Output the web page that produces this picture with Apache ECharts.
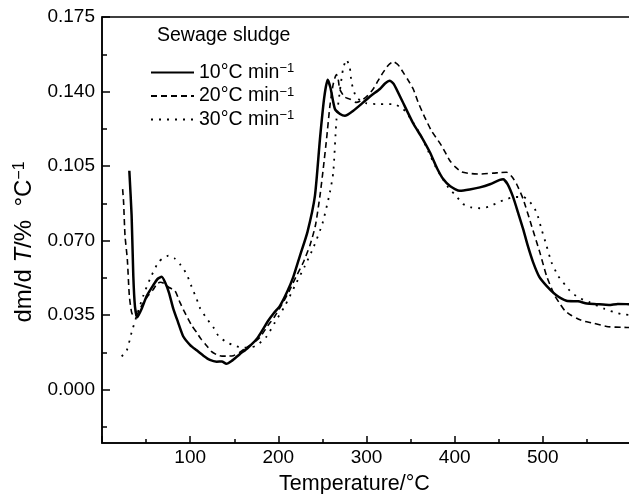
<!DOCTYPE html>
<html>
<head>
<meta charset="utf-8">
<script src="https://cdn.jsdelivr.net/npm/echarts@6/dist/echarts.min.js"></script>
<style>
  html, body { margin: 0; padding: 0; background: #fff; }
  #main { width: 629px; height: 494px; }
</style>
</head>
<body>
<div id="main"></div>
<script>
// DTG curves of sewage sludge at three heating rates
const temp10 = [31, 33.6, 35.5, 37.4, 40, 45, 50.7, 58, 63, 67.7, 72, 76, 80.9, 86, 92.2, 100, 107.4, 115, 122.4, 130, 136, 141, 147, 156.5, 165, 175.4, 182, 188.5, 195, 201.8, 210, 217, 224.5, 233, 241.5, 247.2, 252, 255.9, 259, 264.2, 270, 275.5, 285, 296.3, 305, 315.2, 321, 326.5, 331, 340, 353, 362, 371.9, 380, 387, 395, 405.9, 417, 428.6, 440, 451.2, 455, 460, 466.4, 472, 477.7, 483, 489, 496, 504.2, 515, 526.8, 540, 550, 560.8, 575, 585, 594.8, 600]
const dtg10 = [0.1028, 0.0817, 0.0535, 0.039, 0.034, 0.038, 0.044, 0.049, 0.052, 0.053, 0.050, 0.0455, 0.038, 0.032, 0.025, 0.021, 0.0185, 0.016, 0.014, 0.0132, 0.0133, 0.0122, 0.0135, 0.0168, 0.0195, 0.0238, 0.028, 0.0324, 0.036, 0.0394, 0.046, 0.053, 0.0629, 0.074, 0.091, 0.1177, 0.137, 0.1455, 0.142, 0.1318, 0.1295, 0.1286, 0.131, 0.1349, 0.138, 0.1412, 0.1438, 0.1451, 0.1435, 0.136, 0.125, 0.119, 0.1115, 0.104, 0.0989, 0.0955, 0.0934, 0.094, 0.095, 0.0965, 0.0985, 0.0988, 0.0965, 0.0903, 0.083, 0.0754, 0.0675, 0.0598, 0.053, 0.0488, 0.0445, 0.0418, 0.0415, 0.0405, 0.0402, 0.0398, 0.0403, 0.0402, 0.040]

const temp20 = [23.4, 24.5, 26.1, 28.7, 31, 33.6, 36, 40, 45, 52, 58, 62, 65.8, 70, 76, 82.8, 88.4, 93, 97.8, 102, 107.4, 112, 118.7, 124, 130, 136, 142, 148.9, 156, 164, 172, 179.1, 188, 196, 204, 212, 220, 228, 236, 242, 247.2, 251, 254.7, 258.5, 262, 264.2, 266, 268, 269.6, 275, 281, 288.5, 295, 301, 307.6, 313, 318.9, 325, 330.3, 336, 341.6, 347, 353, 358.6, 366, 373.7, 385.1, 394.6, 401, 407.8, 418, 428.6, 443.7, 452, 458.9, 465, 470.2, 477.7, 487.2, 496.6, 504.2, 513.6, 520, 525, 532, 540, 548, 557, 574, 591, 600]
const dtg20 = [0.0942, 0.088, 0.0723, 0.0614, 0.0441, 0.0363, 0.0345, 0.0355, 0.0395, 0.044, 0.047, 0.0495, 0.0505, 0.050, 0.048, 0.0465, 0.041, 0.037, 0.0332, 0.030, 0.0269, 0.024, 0.0207, 0.018, 0.0165, 0.0158, 0.0158, 0.016, 0.0175, 0.0199, 0.022, 0.0246, 0.030, 0.0345, 0.040, 0.046, 0.053, 0.0595, 0.068, 0.077, 0.091, 0.104, 0.1177, 0.1333, 0.143, 0.1465, 0.148, 0.1455, 0.1412, 0.1375, 0.1365, 0.1349, 0.136, 0.138, 0.1412, 0.145, 0.149, 0.1525, 0.154, 0.1525, 0.149, 0.1455, 0.1412, 0.1349, 0.128, 0.1216, 0.1146, 0.1075, 0.1045, 0.1023, 0.1015, 0.1013, 0.1017, 0.102, 0.1021, 0.100, 0.0966, 0.0895, 0.077, 0.0645, 0.0535, 0.0441, 0.040, 0.0371, 0.035, 0.0332, 0.032, 0.0313, 0.0296, 0.0293, 0.0292]

const temp30 = [22.3, 28, 33.6, 39.3, 46.8, 54.4, 63.8, 70, 75.2, 82, 88.4, 96, 101.5, 107.4, 111, 118.7, 126.3, 131.9, 141.4, 152.7, 160, 168, 176, 186.7, 196.1, 207.5, 218.8, 230, 240, 250, 258.5, 262.3, 266, 269.6, 273.4, 277.2, 281, 283, 288.5, 299.9, 315.2, 330.3, 341.6, 353, 362, 370, 378, 385, 392.7, 402, 409.6, 419, 428.6, 439.9, 449.4, 458.9, 468, 478, 487.2, 492.9, 498.5, 504.2, 509.9, 517.3, 523, 530.6, 540, 553.3, 570.3, 579.8, 589.3, 600]
const dtg30 = [0.0157, 0.0183, 0.0269, 0.0347, 0.0441, 0.052, 0.0598, 0.062, 0.0629, 0.0618, 0.059, 0.0543, 0.0485, 0.0426, 0.0385, 0.0335, 0.0293, 0.0254, 0.0223, 0.0204, 0.0198, 0.0198, 0.021, 0.025, 0.0316, 0.0394, 0.0488, 0.058, 0.067, 0.078, 0.0927, 0.102, 0.1271, 0.1396, 0.1506, 0.155, 0.1514, 0.1443, 0.1373, 0.1345, 0.1341, 0.1341, 0.1318, 0.1255, 0.119, 0.112, 0.105, 0.100, 0.095, 0.0908, 0.0872, 0.0856, 0.0852, 0.0861, 0.088, 0.0895, 0.0905, 0.0905, 0.0872, 0.0833, 0.0754, 0.0676, 0.0598, 0.0535, 0.0504, 0.0465, 0.0434, 0.041, 0.0379, 0.0366, 0.0355, 0.035]

const seriesNames = ['10°C min', '20°C min', '30°C min']
const yTicks = [0, 0.035, 0.07, 0.105, 0.14, 0.175]
const yMinorTicks = [-0.0175, 0.0175, 0.0525, 0.0875, 0.1225, 0.1575]

const font = 'Liberation Sans, Arial, Helvetica, sans-serif'

function pairs(xs, ys) {
  return xs.map((x, i) => [x, ys[i]])
}

const chart = echarts.init(document.getElementById('main'), null, { renderer: 'canvas' })

const option = {
  animation: false,
  backgroundColor: '#fff',
  color: ['#000', '#000', '#000'],
  textStyle: { fontFamily: font, color: '#000' },
  title: {
    text: 'Sewage sludge',
    left: 157,
    top: 26,
    padding: 0,
    textStyle: { fontFamily: font, fontSize: 19.5, fontWeight: 'normal', color: '#000' }
  },
  legend: {
    orient: 'vertical',
    left: 150,
    top: 62,
    padding: 0,
    itemWidth: 43,
    itemHeight: 14,
    itemGap: 3,
    itemStyle: { opacity: 0 },
    formatter: (name) => `{t|${name}}{s|−1}`,
    textStyle: {
      color: '#000',
      fontFamily: font,
      rich: {
        t: { fontSize: 19.5, lineHeight: 21, fontFamily: font, color: '#000' },
        s: { fontSize: 13, lineHeight: 21, verticalAlign: 'top', fontFamily: font, color: '#000' }
      }
    },
    data: seriesNames
  },
  grid: {
    left: 102,
    right: -2,
    top: 17,
    bottom: 51,
    outerBoundsMode: 'none',
    containLabel: false,
    show: true,
    borderColor: '#000',
    borderWidth: 1.5
  },
  xAxis: {
    type: 'value',
    min: 0,
    max: 600,
    interval: 100,
    name: 'Temperature/°C',
    nameLocation: 'middle',
    nameGap: 30,
    nameTextStyle: { fontSize: 21.5, color: '#000', fontFamily: font, padding: [0, 24, 0, 0] },
    axisLine: { onZero: false, lineStyle: { color: '#000', width: 1.5 } },
    axisTick: { inside: true, length: 7, lineStyle: { color: '#000', width: 1.5 } },
    minorTick: { show: true, splitNumber: 2, length: 4, lineStyle: { color: '#000', width: 1.5 } },
    axisLabel: { fontSize: 19, color: '#000', margin: 5, showMinLabel: false, showMaxLabel: false },
    splitLine: { show: false }
  },
  yAxis: [
    {
      type: 'value',
      min: -0.025,
      max: 0.175,
      name: '{a|dm/d }{i|T}{a|/%  °C}{s|−1}',
      nameLocation: 'middle',
      nameGap: 66,
      nameTextStyle: {
        color: '#000',
        padding: [0, 24, 0, 0],
        rich: {
          a: { fontSize: 24, lineHeight: 24, fontFamily: font, color: '#000' },
          i: { fontSize: 24, lineHeight: 24, fontStyle: 'italic', fontFamily: font, color: '#000' },
          s: { fontSize: 16, lineHeight: 24, verticalAlign: 'top', fontFamily: font, color: '#000' }
        }
      },
      axisLine: { show: true, onZero: false, lineStyle: { color: '#000', width: 1.5 } },
      axisTick: { inside: true, length: 8, customValues: yTicks, lineStyle: { color: '#000', width: 1.5 } },
      axisLabel: {
        fontSize: 19,
        color: '#000',
        margin: 7,
        customValues: yTicks,
        formatter: (v) => v.toFixed(3)
      },
      splitLine: { show: false }
    },
    {
      type: 'value',
      min: -0.025,
      max: 0.175,
      position: 'left',
      axisLine: { show: false, onZero: false },
      axisTick: { show: true, inside: true, length: 5, customValues: yMinorTicks, lineStyle: { color: '#000', width: 1.5 } },
      axisLabel: { show: false },
      splitLine: { show: false }
    }
  ],
  series: [
    {
      name: seriesNames[0],
      type: 'line',
      data: pairs(temp10, dtg10),
      showSymbol: false,
      symbol: 'none',
      smooth: 0.2,
      itemStyle: { color: '#000' },
      lineStyle: { color: '#000', width: 2.5 }
    },
    {
      name: seriesNames[1],
      type: 'line',
      data: pairs(temp20, dtg20),
      showSymbol: false,
      symbol: 'none',
      smooth: 0.2,
      itemStyle: { color: '#000' },
      lineStyle: { color: '#000', width: 1.6, type: [6, 4] }
    },
    {
      name: seriesNames[2],
      type: 'line',
      data: pairs(temp30, dtg30),
      showSymbol: false,
      symbol: 'none',
      smooth: 0.2,
      itemStyle: { color: '#000' },
      lineStyle: { color: '#000', width: 1.8, type: [2, 6] }
    }
  ]
}

chart.setOption(option)
</script>
</body>
</html>
